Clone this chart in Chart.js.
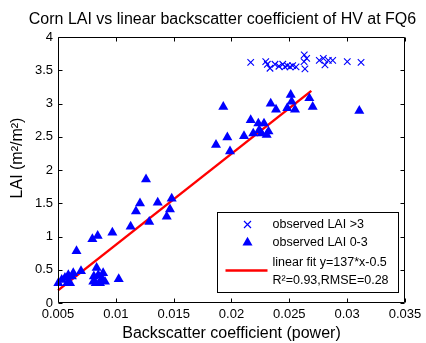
<!DOCTYPE html>
<html>
<head>
<meta charset="utf-8">
<script src="https://cdn.jsdelivr.net/npm/chart.js@4"></script>
<style>
html,body{margin:0;padding:0;background:#fff;}
#wrap{width:426px;height:343px;position:relative;}
</style>
</head>
<body>
<div id="wrap"><canvas id="c" width="426" height="343"></canvas></div>
<script>
// ---- data ----
const chartTitle = 'Corn LAI vs linear backscatter coefficient of HV at FQ6';
const xAxisTitle = 'Backscatter coefficient (power)';
const yAxisTitle = 'LAI (m\u00B2/m\u00B2)';
const xTickValues = [0.005, 0.01, 0.015, 0.02, 0.025, 0.03, 0.035];
const xTickLabels = ['0.005', '0.01', '0.015', '0.02', '0.025', '0.03', '0.035'];
const yTickValues = [0, 0.5, 1, 1.5, 2, 2.5, 3, 3.5, 4];
const yTickLabels = ['0', '0.5', '1', '1.5', '2', '2.5', '3', '3.5', '4'];

// observed LAI > 3 (crosses)
const highX = [0.02166, 0.02296, 0.0231, 0.02333, 0.02376, 0.0241, 0.02443, 0.02462, 0.02482, 0.02506, 0.02529, 0.02558, 0.02629, 0.0265, 0.02627, 0.02635, 0.02759, 0.02794, 0.02808, 0.02837, 0.02875, 0.03001, 0.0312];
const highY = [3.62, 3.63, 3.59, 3.53, 3.59, 3.56, 3.59, 3.55, 3.57, 3.55, 3.57, 3.55, 3.73, 3.68, 3.63, 3.52, 3.65, 3.68, 3.58, 3.65, 3.65, 3.63, 3.62];

// observed LAI 0-3 (triangles)
const lowX = [0.00503, 0.00532, 0.0056, 0.0058, 0.00589, 0.00604, 0.0062, 0.00632, 0.00699, 0.0066, 0.00797, 0.00843, 0.0097, 0.01128, 0.00834, 0.00805, 0.0081, 0.00848, 0.00878, 0.0089, 0.00906, 0.00826, 0.00863, 0.01025,
              0.01174, 0.01209, 0.01289, 0.01261, 0.01362, 0.01483, 0.01468, 0.0144,
              0.01929, 0.01866, 0.01964, 0.01987, 0.02166, 0.02108, 0.02232, 0.02281, 0.02188, 0.0224, 0.0226, 0.02304, 0.0232, 0.02339, 0.02385, 0.02512, 0.02482, 0.02549, 0.0252, 0.02673, 0.02702, 0.03105];
const lowY = [0.30, 0.35, 0.38, 0.30, 0.42, 0.30, 0.40, 0.45, 0.48, 0.78, 0.96, 1.01, 1.06, 1.15, 0.53, 0.32, 0.40, 0.42, 0.37, 0.45, 0.32, 0.30, 0.30, 0.36,
              1.38, 1.50, 1.22, 1.86, 1.51, 1.57, 1.41, 1.30,
              2.95, 2.38, 2.49, 2.28, 2.75, 2.51, 2.70, 2.70, 2.55, 2.60, 2.55, 2.53, 2.58, 3.00, 2.91, 3.13, 2.93, 2.91, 3.03, 3.08, 2.95, 2.89];

// linear fit line endpoints
const fitX = [0.005, 0.0269];
const fitY = [0.19, 3.19];

const legendLabels = ['observed LAI >3', 'observed LAI 0-3', 'linear fit y=137*x-0.5', 'R\u00B2=0.93,RMSE=0.28'];

const toPts = (xs, ys) => xs.map((x, i) => ({x: x, y: ys[i]}));
const FONT = "'Liberation Sans', Arial, Helvetica, sans-serif";

const boxPlugin = {
  id: 'boxPlugin',
  afterDatasetsDraw(chart) {
    const {ctx, chartArea: a, scales: {x, y}} = chart;
    ctx.save();
    ctx.strokeStyle = '#000';
    ctx.lineWidth = 1;
    ctx.beginPath();
    const L = Math.round(a.left) + 0.5, R = Math.round(a.right) - 0.5;
    const T = Math.round(a.top) + 0.5, B = Math.round(a.bottom) - 0.5;
    ctx.rect(L, T, R - L, B - T);
    const tl = 4;
    x.ticks.forEach(t => {
      const px = Math.round(x.getPixelForValue(t.value)) + 0.5;
      ctx.moveTo(px, B); ctx.lineTo(px, B - tl);
      ctx.moveTo(px, T); ctx.lineTo(px, T + tl);
    });
    y.ticks.forEach(t => {
      const py = Math.round(y.getPixelForValue(t.value)) + 0.5;
      ctx.moveTo(L, py); ctx.lineTo(L + tl, py);
      ctx.moveTo(R, py); ctx.lineTo(R - tl, py);
    });
    ctx.stroke();
    ctx.restore();
  },
  afterDraw(chart) {
    const {ctx, chartArea: a} = chart;
    ctx.save();
    // title
    ctx.fillStyle = '#000';
    ctx.font = '16px ' + FONT;
    ctx.textAlign = 'center';
    ctx.textBaseline = 'middle';
    ctx.fillText(chartTitle, (a.left + a.right) / 2 - 9, 20);
    // y axis title
    ctx.save();
    ctx.translate(18, (a.top + a.bottom) / 2 - 12);
    ctx.rotate(-Math.PI / 2);
    ctx.fillText(yAxisTitle, 0, 0);
    ctx.restore();
    // legend
    const bx = Math.round(a.right) - 188 + 0.5, by = Math.round(a.bottom) - 91 + 0.5;
    const bw = 181, bh = 80;
    ctx.fillStyle = '#fff';
    ctx.fillRect(bx, by, bw, bh);
    ctx.strokeStyle = '#000';
    ctx.lineWidth = 1;
    ctx.strokeRect(bx, by, bw, bh);
    const mx = bx + 30, tx = bx + 55;
    // cross marker
    ctx.strokeStyle = '#0000ff';
    ctx.lineWidth = 1.2;
    const c1y = by + 12, r = 3.5;
    ctx.beginPath();
    ctx.moveTo(mx - r, c1y - r); ctx.lineTo(mx + r, c1y + r);
    ctx.moveTo(mx + r, c1y - r); ctx.lineTo(mx - r, c1y + r);
    ctx.stroke();
    // triangle marker
    const c2y = by + 30, tr = 5.8;
    ctx.fillStyle = '#0000ff';
    ctx.beginPath();
    ctx.moveTo(mx, c2y - tr);
    ctx.lineTo(mx + tr * 0.866, c2y + tr * 0.5);
    ctx.lineTo(mx - tr * 0.866, c2y + tr * 0.5);
    ctx.closePath();
    ctx.fill();
    // line
    ctx.strokeStyle = '#ff0000';
    ctx.lineWidth = 2.5;
    ctx.beginPath();
    ctx.moveTo(bx + 8, by + 58); ctx.lineTo(bx + 50, by + 58);
    ctx.stroke();
    // texts
    ctx.fillStyle = '#000';
    ctx.font = '12.5px ' + FONT;
    ctx.textBaseline = 'middle';
    ctx.textAlign = 'left';
    ctx.fillText(legendLabels[0], tx, c1y);
    ctx.fillText(legendLabels[1], tx, c2y);
    ctx.fillText(legendLabels[2], tx, by + 50);
    ctx.fillText(legendLabels[3], tx, by + 68);
    ctx.restore();
  }
};

new Chart(document.getElementById('c'), {
  type: 'scatter',
  data: {
    datasets: [
      {
        label: legendLabels[0],
        data: toPts(highX, highY),
        pointStyle: 'crossRot',
        pointRadius: 4.6,
        borderColor: '#0000ff',
        backgroundColor: '#0000ff',
        borderWidth: 1.1,
        clip: false
      },
      {
        label: legendLabels[1],
        data: toPts(lowX, lowY),
        pointStyle: 'triangle',
        pointRadius: 5.8,
        borderColor: '#0000ff',
        backgroundColor: '#0000ff',
        borderWidth: 0,
        clip: false
      },
      {
        type: 'line',
        label: legendLabels[2],
        data: toPts(fitX, fitY),
        borderColor: '#ff0000',
        borderWidth: 2.5,
        pointRadius: 0,
        fill: false,
        clip: false
      }
    ]
  },
  options: {
    responsive: false,
    animation: false,
    events: [],
    layout: {padding: {left: 0, right: 21, top: 37, bottom: 0}},
    plugins: {
      legend: {display: false},
      tooltip: {enabled: false},
      title: {display: false}
    },
    scales: {
      x: {
        type: 'linear',
        min: 0.005,
        max: 0.035,
        afterBuildTicks: s => { s.ticks = xTickValues.map(v => ({value: v})); },
        afterFit: s => { s.height = 40; },
        grid: {display: false, drawTicks: false},
        border: {display: false},
        ticks: {
          color: '#000',
          font: {family: FONT, size: 13},
          padding: 4,
          maxRotation: 0,
          autoSkip: false,
          callback: (v, i) => xTickLabels[i]
        },
        title: {
          display: true,
          text: xAxisTitle,
          color: '#000',
          font: {family: FONT, size: 16},
          padding: {top: 0, bottom: 0}
        }
      },
      y: {
        type: 'linear',
        min: 0,
        max: 4,
        afterBuildTicks: s => { s.ticks = yTickValues.map(v => ({value: v})); },
        afterFit: s => { s.width = 58; },
        grid: {display: false, drawTicks: false},
        border: {display: false},
        ticks: {
          color: '#000',
          font: {family: FONT, size: 13},
          padding: 5,
          autoSkip: false,
          callback: (v, i) => yTickLabels[i]
        },
        title: {display: false}
      }
    }
  },
  plugins: [boxPlugin]
});
</script>
</body>
</html>
